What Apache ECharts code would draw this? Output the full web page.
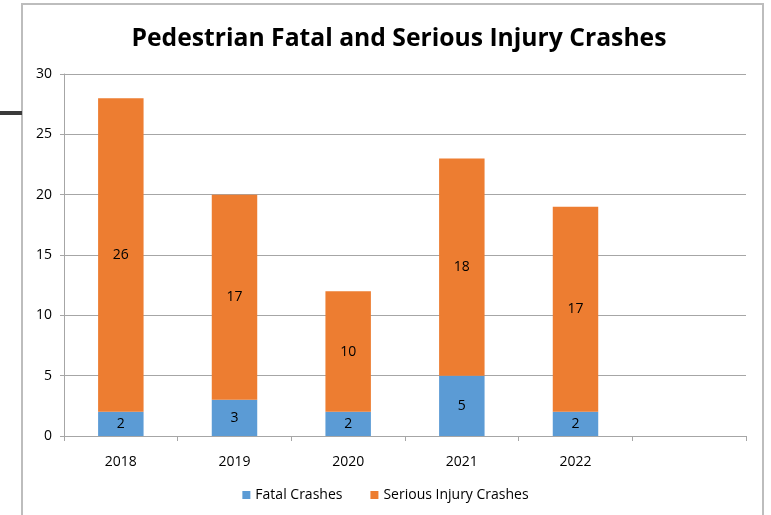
<!DOCTYPE html>
<html><head><meta charset="utf-8">
<script src="https://cdn.jsdelivr.net/npm/echarts@6/dist/echarts.min.js"></script>
<style>html,body{margin:0;padding:0;background:#fff}#c{width:771px;height:515px}</style>
</head><body><div id="c"></div>
<script>
const categories = ['2018', '2019', '2020', '2021', '2022', ''];
const fatalCrashes = [2, 3, 2, 5, 2, null];
const seriousInjuryCrashes = [26, 17, 10, 18, 17, null];
const yTicks = [0, 5, 10, 15, 20, 25, 30];

const FONT = '"Open Sans", sans-serif';
const chart = echarts.init(document.getElementById('c'));
const gray = '#a6a6a6';
chart.setOption({
  animation: false,
  title: {
    text: 'Pedestrian Fatal and Serious Injury Crashes',
    left: 394, top: 21, textAlign: 'center',
    textStyle: { fontFamily: FONT, fontWeight: 'bold', fontSize: 24.7, color: '#000' }
  },
  graphic: [
    { type: 'rect', shape: { x: 22, y: 4, width: 741, height: 530 }, style: { fill: null, stroke: '#bdbdbd', lineWidth: 2 }, silent: true },
    { type: 'rect', shape: { x: 0, y: 111, width: 22, height: 4 }, style: { fill: '#3a3a3a' }, silent: true }
  ],
  legend: {
    bottom: 8, left: 'center', itemWidth: 8, itemHeight: 8, itemGap: 28, icon: 'rect',
    textStyle: { fontFamily: FONT, fontSize: 14, color: '#000' },
    data: ['Fatal Crashes', 'Serious Injury Crashes']
  },
  grid: { left: 64, right: 25, top: 74, bottom: 79 },
  xAxis: {
    type: 'category', data: categories,
    axisLine: { lineStyle: { color: gray } },
    axisTick: { show: true, length: 5, lineStyle: { color: gray } },
    axisLabel: { margin: 19, fontFamily: FONT, fontSize: 14, color: '#000' }
  },
  yAxis: {
    type: 'value', min: yTicks[0], max: yTicks[yTicks.length - 1], interval: 5,
    axisLine: { show: true, lineStyle: { color: gray } },
    axisTick: { show: true, length: 4, lineStyle: { color: gray } },
    splitLine: { lineStyle: { color: gray } },
    axisLabel: { margin: 12, fontFamily: FONT, fontSize: 14, color: '#000' }
  },
  series: [
    { name: 'Fatal Crashes', type: 'bar', stack: 's', data: fatalCrashes, barWidth: '40%',
      itemStyle: { color: '#5b9bd5' },
      label: { show: true, position: 'inside', fontFamily: FONT, fontSize: 14, color: '#000' } },
    { name: 'Serious Injury Crashes', type: 'bar', stack: 's', data: seriousInjuryCrashes, barWidth: '40%',
      itemStyle: { color: '#ed7d31' },
      label: { show: true, position: 'inside', fontFamily: FONT, fontSize: 14, color: '#000' } }
  ]
});
</script></body></html>
